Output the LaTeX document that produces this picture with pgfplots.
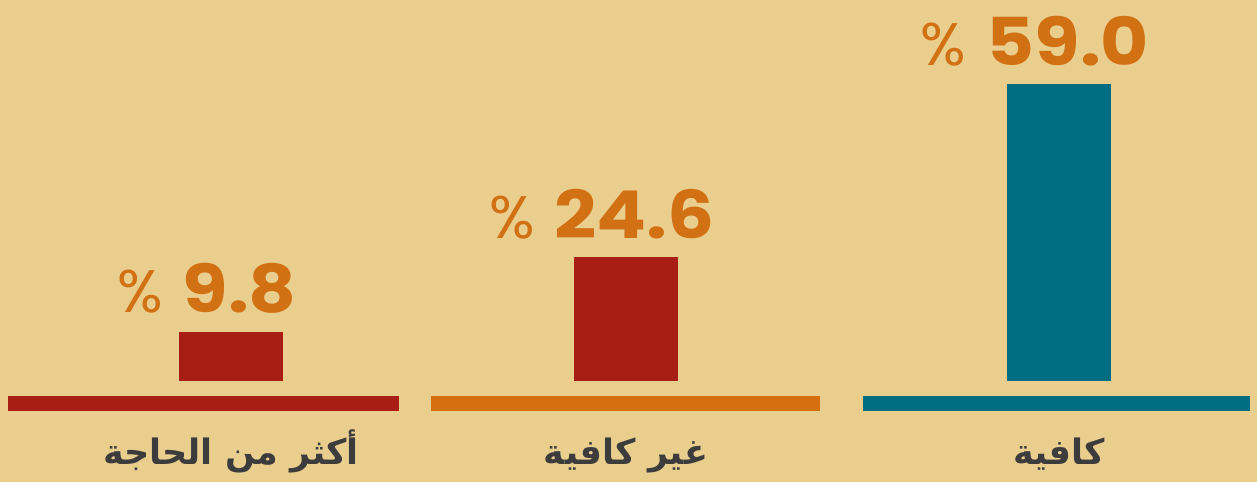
\documentclass[border=0pt]{standalone}
\usepackage{fontspec}
\usepackage{pgfplots}
\pgfplotsset{compat=1.18}
\TeXXeTstate=1
\newfontfamily\arabicfont[Script=Arabic]{DejaVu Sans}
\newfontfamily\numfont{Poppins}[FakeStretch=1.12]
\newfontfamily\pctfont{Poppins}
\definecolor{bgsand}{RGB}{233,206,142}
\definecolor{barred}{RGB}{168,30,20}
\definecolor{barorange}{RGB}{212,112,15}
\definecolor{barteal}{RGB}{0,110,130}
\definecolor{valorange}{RGB}{210,112,20}
\definecolor{labelgray}{RGB}{60,60,60}

\begin{document}
\begin{tikzpicture}
\begin{axis}[
    scale only axis,
    width=1257pt, height=482pt,
    xmin=0, xmax=1257,
    ymin=-20.08, ymax=75.75,
    ybar, bar width=104, bar shift=0pt,
    axis background/.style={fill=bgsand},
    axis line style={draw=none},
    tick style={draw=none},
    ytick=\empty,
    xtick={231,626,1059},
    xticklabels={
      {\arabicfont\bfseries\beginR أكثر من الحاجة\endR},
      {\arabicfont\bfseries\beginR غير كافية\endR},
      {\arabicfont\bfseries\beginR كافية\endR}},
    xticklabel style={font=\fontsize{35}{35}\selectfont, text=labelgray,
                      anchor=base, yshift=22pt, inner sep=0pt},
    clip=false,
    /pgf/number format/assume math mode=true,
    nodes near coords={\pctfont\fontsize{60}{60}\selectfont\%\hspace{20pt}\numfont\bfseries\fontsize{66}{66}\selectfont\pgfmathprintnumber[fixed,fixed zerofill,precision=1]{\pgfplotspointmeta}},
    nodes near coords style={text=valorange, anchor=base, inner sep=0pt, yshift=19pt, xshift=-24pt},
]
\coordinate (bl) at (rel axis cs:0,0);
\coordinate (tr) at (rel axis cs:1,1);
% underlines under each category
\draw[barred, line width=15pt] (axis cs:8,-4.47) -- (axis cs:399,-4.47);
\draw[barorange, line width=15pt] (axis cs:431,-4.47) -- (axis cs:820,-4.47);
\draw[barteal, line width=15pt] (axis cs:863,-4.47) -- (axis cs:1250,-4.47);

\addplot[fill=barred, draw=none] coordinates {(231,9.8)};
\addplot[fill=barred, draw=none] coordinates {(626,24.6)};
\addplot[fill=barteal, draw=none] coordinates {(1059,59.0)};
\end{axis}
\pgfresetboundingbox
\path[use as bounding box] (bl) rectangle (tr);
\end{tikzpicture}
\end{document}
